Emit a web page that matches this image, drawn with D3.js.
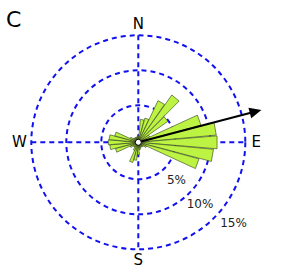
<!DOCTYPE html>
<html><head><meta charset="utf-8">
<script src="https://cdn.jsdelivr.net/npm/d3@7"></script>
<style>body{margin:0;background:#fff}svg{display:block}</style>
</head><body><div id="chart"></div>
<script>
// Wind directions (degrees clockwise from north) and frequency (%)
const directions = [0,10,20,30,40,50,60,70,80,90,100,110,120,130,140,150,160,170,180,190,200,210,220,230,240,250,260,270,280,290,300,310,320,330,340,350];
const frequencies = [0.6,3.0,3.3,6.3,8.0,4.9,1.5,9.0,10.9,11.0,10.5,8.7,1.0,0.6,0.5,0.5,0.6,0.8,1.5,2.3,2.7,1.0,0.6,0.6,1.0,3.1,3.8,4.0,3.9,3.2,1.0,0.6,0.5,0.5,0.5,0.5];
const ringValues = [5,10,15];
const ringLabels = ["5%","10%","15%"];
const compassLabels = ["N","E","S","W"];
const compassAngles = [0,90,180,270];
const meanDirection = 75.3;   // arrow direction
const meanLength = 17.9;      // arrow length in % units
const panelLabel = "C";

const W = 284, H = 277, cx = 138.3, cy = 142.3;
const svg = d3.select("#chart").append("svg").attr("width", W).attr("height", H);
const r = d3.scaleLinear().domain([0,15]).range([2,107]);
const rad = d => d * Math.PI / 180;
const pt = (deg, v) => [cx + r(v) * Math.sin(rad(deg)), cy - r(v) * Math.cos(rad(deg))];
const ptR = (deg, px) => [cx + px * Math.sin(rad(deg)), cy - px * Math.cos(rad(deg))];

const blue = "#1010f0";
// grid rings
svg.selectAll("circle.ring").data(ringValues).enter().append("circle")
  .attr("class","ring").attr("cx",cx).attr("cy",cy).attr("r",d=>r(d))
  .attr("fill","none").attr("stroke",blue).attr("stroke-width",2).attr("stroke-dasharray","5,4");
// cross lines
const rmax = r(15);
svg.append("line").attr("x1",cx).attr("x2",cx).attr("y1",cy-rmax).attr("y2",cy+rmax)
  .attr("stroke",blue).attr("stroke-width",2).attr("stroke-dasharray","5,4");
svg.append("line").attr("x1",cx-rmax).attr("x2",cx+rmax).attr("y1",cy).attr("y2",cy)
  .attr("stroke",blue).attr("stroke-width",2).attr("stroke-dasharray","5,4");

// petals
const half = 4.7;
const data = directions.map((d,i)=>({dir:d, v:frequencies[i]}));
svg.selectAll("path.petal").data(data).enter().append("path")
  .attr("class","petal")
  .attr("d", d => {
    const a = ptR(d.dir - half, r(d.v)), b = ptR(d.dir + half, r(d.v));
    return `M${cx},${cy}L${a[0]},${a[1]}L${b[0]},${b[1]}Z`;
  })
  .attr("fill","#bdf443").attr("stroke","#2a3a10").attr("stroke-width",0.6);

// arrow
const tip = pt(meanDirection, meanLength);
const headLen = 12, headW = 5.5;
const ux = Math.sin(rad(meanDirection)), uy = -Math.cos(rad(meanDirection));
const bx = tip[0] - ux*headLen, by = tip[1] - uy*headLen;
svg.append("line").attr("x1",cx).attr("y1",cy).attr("x2",bx+ux*2).attr("y2",by+uy*2)
  .attr("stroke","#000").attr("stroke-width",2);
svg.append("path")
  .attr("d",`M${tip[0]},${tip[1]}L${bx - uy*headW},${by + ux*headW}L${bx + uy*headW},${by - ux*headW}Z`)
  .attr("fill","#000");

// center circle
svg.append("circle").attr("cx",cx).attr("cy",cy).attr("r",3)
  .attr("fill","#fff").attr("stroke","#000").attr("stroke-width",1);

// compass labels
const lblOffset = [118, 118, 118, 119];
svg.selectAll("text.compass").data(compassLabels).enter().append("text")
  .attr("class","compass")
  .attr("x",(d,i)=>ptR(compassAngles[i], lblOffset[i])[0])
  .attr("y",(d,i)=>ptR(compassAngles[i], lblOffset[i])[1])
  .attr("text-anchor","middle").attr("dominant-baseline","central")
  .attr("font-family","DejaVu Sans").attr("font-size",15).attr("fill","#000")
  .text(d=>d);

// ring labels
const ringLabelPos = [[176.5,179.5],[200,203.5],[233.5,222.5]];
svg.selectAll("text.rl").data(ringLabels).enter().append("text")
  .attr("class","rl")
  .attr("x",(d,i)=>ringLabelPos[i][0]).attr("y",(d,i)=>ringLabelPos[i][1])
  .attr("text-anchor","middle").attr("dominant-baseline","central")
  .attr("font-family","DejaVu Sans").attr("font-size",12).attr("fill","#222")
  .text(d=>d);

svg.append("text").attr("x",6).attr("y",27).attr("font-family","DejaVu Sans")
  .attr("font-size",22).attr("fill","#000").text(panelLabel);
</script></body></html>
